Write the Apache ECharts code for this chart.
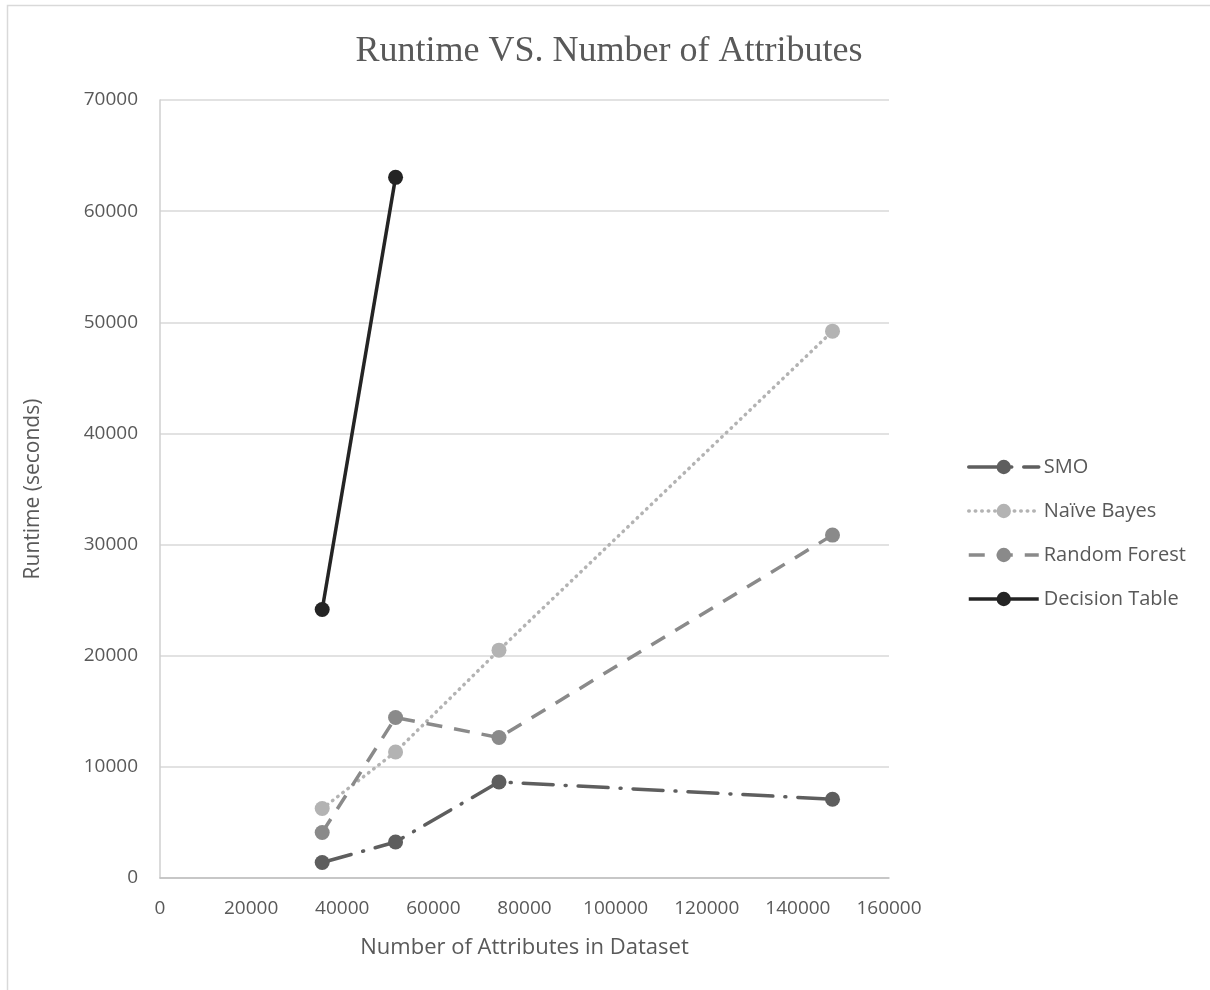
<!DOCTYPE html>
<html>
<head>
<meta charset="utf-8">
<script src="https://cdn.jsdelivr.net/npm/echarts@6/dist/echarts.min.js"></script>
<style>
  html, body { margin: 0; padding: 0; background: #ffffff; }
  #chart { width: 1210px; height: 990px; }
</style>
</head>
<body>
<div id="chart"></div>
<script>
// Dataset sizes (number of attributes) and runtimes in seconds
const attrsAll = [35600, 51700, 74400, 147600];
const attrsDT = [35600, 51700];

const smoRuntime = [1390, 3240, 8640, 7090];
const naiveBayesRuntime = [6250, 11340, 20500, 49200];
const randomForestRuntime = [4090, 14440, 12640, 30850];
const decisionTableRuntime = [24160, 63040];

const seriesNames = ['SMO', 'Naïve Bayes', 'Random Forest', 'Decision Table'];

const xTicks = { min: 0, max: 160000, interval: 20000 };
const yTicks = { min: 0, max: 70000, interval: 10000 };

function pairs(xs, ys) {
  return xs.map((x, i) => [x, ys[i]]);
}

const labelFont = '"Open Sans", "Noto Sans", sans-serif';
const textGray = '#595959';
const plainNumber = v => String(v);

function lineSeries(name, xs, ys, color, dash, cap) {
  return {
    name: name,
    type: 'line',
    data: pairs(xs, ys),
    symbol: 'circle',
    symbolSize: 15,
    showSymbol: true,
    itemStyle: { color: color },
    lineStyle: { color: color, width: 3.5, type: dash, cap: cap || 'butt' },
    emphasis: { disabled: true },
    z: 3
  };
}

const chart = echarts.init(document.getElementById('chart'), null, { renderer: 'canvas' });

chart.setOption({
  backgroundColor: '#ffffff',
  animation: false,
  title: {
    text: 'Runtime VS. Number of Attributes',
    left: 604,
    textAlign: 'center',
    top: 29,
    textStyle: {
      fontFamily: '"Liberation Serif", "DejaVu Serif", serif',
      fontWeight: 'normal',
      fontSize: 36,
      color: textGray
    }
  },
  graphic: [{
    type: 'rect',
    shape: { x: 7.5, y: 5.5, width: 1300, height: 1100 },
    style: { fill: 'none', stroke: '#d9d9d9', lineWidth: 1.5 },
    silent: true,
    z: -10
  }],
  legend: {
    orient: 'vertical',
    left: 962,
    top: 452,
    itemWidth: 70,
    itemHeight: 18,
    itemGap: 24,
    data: seriesNames,
    lineStyle: { width: 3.5 },
    textStyle: { fontFamily: labelFont, fontSize: 20, color: textGray },
    selectedMode: false
  },
  grid: { left: 160, right: 321, top: 100, bottom: 112, containLabel: false },
  xAxis: {
    type: 'value',
    min: xTicks.min,
    max: xTicks.max,
    interval: xTicks.interval,
    name: 'Number of Attributes in Dataset',
    nameLocation: 'middle',
    nameGap: 59,
    nameTextStyle: { fontFamily: labelFont, fontSize: 22, color: textGray },
    axisLine: { show: true, lineStyle: { color: '#bfbfbf', width: 1.5 } },
    axisTick: { show: false },
    splitLine: { show: false },
    axisLabel: { fontFamily: labelFont, fontSize: 19, color: textGray, margin: 21, formatter: plainNumber }
  },
  yAxis: {
    type: 'value',
    min: yTicks.min,
    max: yTicks.max,
    interval: yTicks.interval,
    name: 'Runtime (seconds)',
    nameLocation: 'middle',
    nameGap: 116,
    nameRotate: 90,
    nameTextStyle: { fontFamily: labelFont, fontSize: 21, color: textGray },
    axisLine: { show: true, lineStyle: { color: '#cfcfcf', width: 1.5 } },
    axisTick: { show: false },
    splitLine: { show: true, lineStyle: { color: '#d9d9d9', width: 1.5 } },
    axisLabel: { fontFamily: labelFont, fontSize: 19, color: textGray, margin: 22, formatter: plainNumber }
  },
  series: [
    lineSeries(seriesNames[0], attrsAll, smoRuntime, '#5e5e5e', [30, 12, 1, 12], 'round'),
    lineSeries(seriesNames[1], attrsAll, naiveBayesRuntime, '#b3b3b3', [0.5, 6], 'round'),
    lineSeries(seriesNames[2], attrsAll, randomForestRuntime, '#8a8a8a', [16, 12]),
    lineSeries(seriesNames[3], attrsDT, decisionTableRuntime, '#242424', 'solid')
  ]
});
</script>
</body>
</html>
